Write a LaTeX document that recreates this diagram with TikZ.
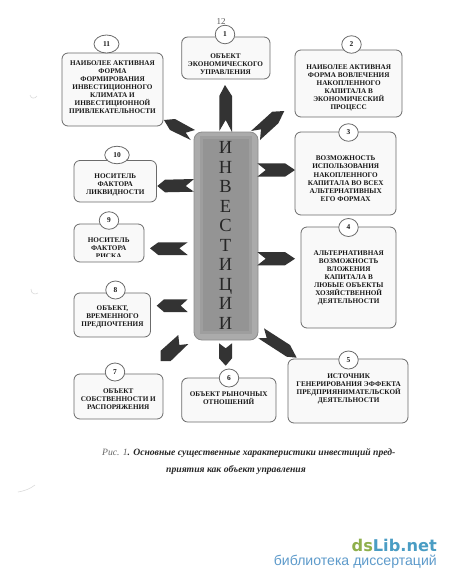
\documentclass[tikz,border=0pt]{standalone}
\usepackage{fontspec}
\setmainfont{Liberation Serif}
\newfontfamily\logofont{Liberation Sans}
\newfontfamily\logobold{DejaVu Sans}
\usetikzlibrary{shapes.geometric}
\definecolor{boxline}{gray}{0.42}
\definecolor{boxfill}{gray}{0.975}
\definecolor{inktext}{gray}{0.1}
\definecolor{arrowfill}{gray}{0.2}
\definecolor{pillout}{gray}{0.67}
\definecolor{pillmid}{gray}{0.62}
\definecolor{pillin}{gray}{0.58}
\definecolor{logogreen}{HTML}{8FB04C}
\definecolor{logoblue}{HTML}{4A9DC4}
\definecolor{logolight}{HTML}{5E9BCB}
\tikzset{
  x=1pt,y=-1pt,
  boxshape/.style={draw=boxline,fill=boxfill,line width=0.8pt,rounded corners=6pt,inner sep=0pt},
  boxtext/.style={font=\bfseries\fontsize{7.2}{8.05}\selectfont,text=inktext,align=center,inner sep=0pt},
  badge/.style={ellipse,draw=boxline,fill=white,line width=0.8pt,inner sep=0pt,font=\bfseries\fontsize{7.4}{8}\selectfont,text=inktext},
  blockarrow/.style={fill=arrowfill,draw=none},
  pillletters/.style={font=\fontsize{18.5}{19.55}\selectfont,text=black!85,align=center,inner sep=0pt},
  scanmark/.style={draw=gray!28,line width=0.6pt},
}
\newcommand{\boxat}[5]{% name, x1, y1, x2, y2
  \path[boxshape] (#2,#3) rectangle (#4,#5) node[pos=0.5,inner sep=0pt] (#1) {};}
\begin{document}
\begin{tikzpicture}
\useasboundingbox (0,0) rectangle (450,582);
\fill[white] (0,0) rectangle (450,582);

% scan marks
\draw[scanmark] (30,95) .. controls (31,99) and (35,99) .. (37,96);
\draw[scanmark] (31,289) .. controls (31,294) and (35,295) .. (38,293);
\draw[scanmark] (18,492) .. controls (24,491) and (30,489) .. (35,485);

\node[font=\fontsize{9}{10}\selectfont,text=black!65,anchor=west,inner sep=0pt] (pagenum) at (216.5,22) {12};

% central pillar
\path[fill=pillout,draw=black!45,line width=0.8pt,rounded corners=8pt] (194,132) rectangle (258,340);
\fill[pillmid] (200,136) rectangle (252,334);
\fill[pillin] (203,139) rectangle (249,331);
\node[pillletters] (pillar) at (225.5,235.5) {И\\Н\\В\\Е\\С\\Т\\И\\Ц\\И\\И};

% block arrows
\fill[blockarrow] (225,85) -- (232,96) -- (232,132) -- (225.7,120) -- (219.3,131) -- (219.3,96) -- cycle;
\fill[blockarrow] (284.3,111) -- (272.3,111.7) -- (251,131) -- (261,129.3) -- (260,140) -- (278.3,123.3) -- cycle;
\fill[blockarrow] (295,170) -- (285,163.3) -- (257.3,163.3) -- (265.7,170) -- (257.3,176.7) -- (285,176.7) -- cycle;
\fill[blockarrow] (295,258.7) -- (285,252) -- (257.3,252) -- (265.7,258.7) -- (257.3,265.3) -- (285,265.3) -- cycle;
\fill[blockarrow] (296.7,357.7) -- (290,345) -- (264,328.3) -- (266.7,338) -- (258.3,338.3) -- (286.7,356.7) -- cycle;
\fill[blockarrow] (225.7,365.7) -- (232,358.3) -- (232,343.3) -- (225.7,348.3) -- (219,343.3) -- (219,358.3) -- cycle;
\fill[blockarrow] (160.7,361) -- (160.7,350.7) -- (178.3,335) -- (179.3,345) -- (188.3,344) -- (170.7,361) -- cycle;
\fill[blockarrow] (156.7,305.7) -- (164,299.3) -- (187.7,299.3) -- (180.7,305.7) -- (187.7,312) -- (164,312) -- cycle;
\fill[blockarrow] (150,248.3) -- (158.3,242.3) -- (187.7,242.3) -- (179.3,248.3) -- (187.7,255) -- (158.3,255) -- cycle;
\fill[blockarrow] (157.3,186) -- (165,179.7) -- (194,179) -- (185.7,186) -- (194,191.7) -- (165,192.3) -- cycle;
\fill[blockarrow] (164,120) -- (175,119) -- (195,130) -- (185.7,132.7) -- (190.7,140) -- (170,130) -- cycle;

% boxes
\boxat{b1}{181.7}{37}{270}{79}
\boxat{b2}{295}{50}{402}{117}
\boxat{b3}{295}{132}{396}{215}
\boxat{b4}{301}{227}{396}{328}
\boxat{b5}{288}{359}{408}{423}
\boxat{b6}{181.7}{378}{276}{422}
\boxat{b7}{74}{374}{163}{419}
\boxat{b8}{74}{293}{150.5}{337}
\boxat{b9}{74}{224}{144}{262}
\boxat{b10}{74}{160.5}{156.5}{202}
\boxat{b11}{62}{53}{163}{126}

% box texts
\node[boxtext] (t1) at (225.5,63.7) {ОБЪЕКТ\\ЭКОНОМИЧЕСКОГО\\УПРАВЛЕНИЯ};
\node[boxtext] (t2) at (348.7,88) {НАИБОЛЕЕ АКТИВНАЯ\\ФОРМА ВОВЛЕЧЕНИЯ\\НАКОПЛЕННОГО\\КАПИТАЛА В\\ЭКОНОМИЧЕСКИЙ\\ПРОЦЕСС};
\node[boxtext] (t3) at (345.7,178.7) {ВОЗМОЖНОСТЬ\\ИСПОЛЬЗОВАНИЯ\\НАКОПЛЕННОГО\\КАПИТАЛА ВО ВСЕХ\\АЛЬТЕРНАТИВНЫХ\\ЕГО ФОРМАХ};
\node[boxtext] (t4) at (348.7,278) {АЛЬТЕРНАТИВНАЯ\\ВОЗМОЖНОСТЬ\\ВЛОЖЕНИЯ\\КАПИТАЛА В\\ЛЮБЫЕ ОБЪЕКТЫ\\ХОЗЯЙСТВЕННОЙ\\ДЕЯТЕЛЬНОСТИ};
\node[boxtext] (t5) at (348.7,388.8) {ИСТОЧНИК\\ГЕНЕРИРОВАНИЯ ЭФФЕКТА\\ПРЕДПРИЯНИМАТЕЛЬСКОЙ\\ДЕЯТЕЛЬНОСТИ};
\node[boxtext] (t6) at (228.7,398.2) {ОБЪЕКТ РЫНОЧНЫХ\\ОТНОШЕНИЙ};
\node[boxtext] (t7) at (118.3,399.5) {ОБЪЕКТ\\СОБСТВЕННОСТИ И\\РАСПОРЯЖЕНИЯ};
\node[boxtext] (t8) at (112.5,317.3) {ОБЪЕКТ,\\ВРЕМЕННОГО\\ПРЕДПОЧТЕНИЯ};
\begin{scope}
  \clip (74,224) rectangle (144,256.8);
  \node[boxtext] (t9) at (108.7,247.8) {НОСИТЕЛЬ\\ФАКТОРА\\РИСКА};
\end{scope}
\node[boxtext] (t10) at (115.3,185) {НОСИТЕЛЬ\\ФАКТОРА\\ЛИКВИДНОСТИ};
\node[boxtext] (t11) at (112.5,87) {НАИБОЛЕЕ АКТИВНАЯ\\ФОРМА\\ФОРМИРОВАНИЯ\\ИНВЕСТИЦИОННОГО\\КЛИМАТА И\\ИНВЕСТИЦИОННОЙ\\ПРИВЛЕКАТЕЛЬНОСТИ};

% numbered badges
\node[badge,minimum width=19.5pt,minimum height=18.5pt] (c1) at (225,34.5) {1};
\node[badge,minimum width=19.5pt,minimum height=17.5pt] (c2) at (351.5,44.5) {2};
\node[badge,minimum width=19.5pt,minimum height=17.5pt] (c3) at (348.5,132.5) {3};
\node[badge,minimum width=19.5pt,minimum height=18pt] (c4) at (348.5,227.5) {4};
\node[badge,minimum width=19.5pt,minimum height=18pt] (c5) at (348.5,360) {5};
\node[badge,minimum width=19.5pt,minimum height=18pt] (c6) at (229,378) {6};
\node[badge,minimum width=19.5pt,minimum height=18pt] (c7) at (115,372) {7};
\node[badge,minimum width=19.5pt,minimum height=18pt] (c8) at (115.5,290) {8};
\node[badge,minimum width=19.5pt,minimum height=17.5pt] (c9) at (109,220.5) {9};
\node[badge,minimum width=24.5pt,minimum height=17.5pt] (c10) at (117,155) {10};
\node[badge,minimum width=25pt,minimum height=18pt] (c11) at (106.5,44) {11};

% caption
\node[anchor=west,inner sep=0pt,font=\fontsize{9.65}{11}\selectfont,text=black!85] (cap1) at (102,453) {\textit{\textcolor{black!60}{Рис. 1}}\textbf{\textit{. Основные существенные характеристики инвестиций пред-}}};
\node[anchor=center,inner sep=0pt,font=\fontsize{9.65}{11}\selectfont,text=black!85] (cap2) at (236,470) {\textbf{\textit{приятия как объект управления}}};

% watermark
\node[anchor=east,inner sep=0pt,font=\logobold\bfseries\fontsize{16.2}{20}\selectfont] (logo) at (437,545) {\textcolor{logogreen}{ds}\textcolor{logoblue}{Lib.net}};
\node[anchor=east,inner sep=0pt,font=\logofont\fontsize{14.1}{15}\selectfont,text=logolight] (logosub) at (437,561.5) {библиотека диссертаций};
\end{tikzpicture}
\end{document}
